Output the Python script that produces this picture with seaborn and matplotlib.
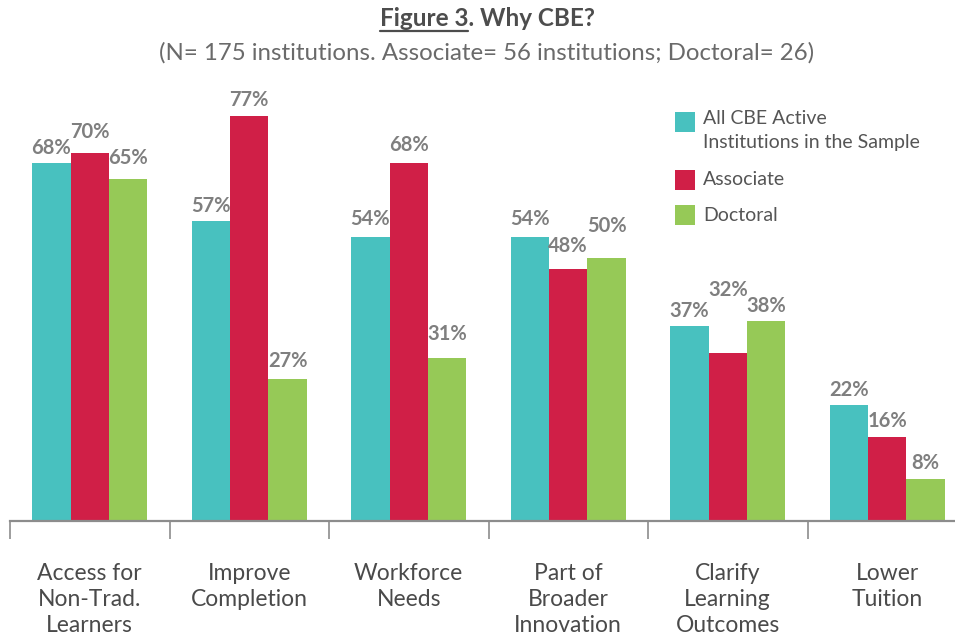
import matplotlib
matplotlib.use("Agg")
import matplotlib.pyplot as plt
import seaborn as sns
import pandas as pd
from matplotlib.patches import Rectangle
from matplotlib.lines import Line2D

categories = ["Access for\nNon-Trad.\nLearners", "Improve\nCompletion", "Workforce\nNeeds",
              "Part of\nBroader\nInnovation", "Clarify\nLearning\nOutcomes", "Lower\nTuition"]
series = ["All CBE Active\nInstitutions in the Sample", "Associate", "Doctoral"]
all_cbe = [68, 57, 54, 54, 37, 22]
associate = [70, 77, 68, 48, 32, 16]
doctoral = [65, 27, 31, 50, 38, 8]
colors = ["#48C1BF", "#D01F47", "#96C957"]

# extra vertical offsets (points) for the value labels, per series/category
label_offsets = [
    [0, 0, 2, 2, 0, 0],
    [4, 0, 2, 5, 34, 0],
    [4, 2, 6, 12, 0, 0],
]

df = pd.DataFrame({
    "category": categories * 3,
    "series": [s for s in series for _ in categories],
    "value": all_cbe + associate + doctoral,
})

sns.set_theme(style="white")
plt.rcParams["font.family"] = ["Lato", "DejaVu Sans"]

W, H = 955, 635
fig = plt.figure(figsize=(W / 100, H / 100), dpi=100)
ax = fig.add_axes([10 / W, 114 / H, 957 / W, 90 * 5.26 / H])

sns.barplot(data=df, x="category", y="value", hue="series", hue_order=series,
            order=categories, palette=colors, width=0.72, gap=0, ax=ax,
            legend=False, saturation=1, linewidth=0)

ax.set_xlim(-0.5, 5.5)
ax.set_ylim(0, 90)
ax.set_xlabel("")
ax.set_ylabel("")
ax.set_yticks([])
for s in ["top", "left", "right"]:
    ax.spines[s].set_visible(False)
ax.spines["bottom"].set_color("#8c8c8c")
ax.spines["bottom"].set_linewidth(1.6)

ax.set_xticks(range(len(categories)))
ax.set_xticklabels(categories, fontsize=16.5, color="#4a4a4a", linespacing=1.29)
ax.tick_params(axis="x", which="major", length=0, pad=30)
ax.set_xticks([i - 0.5 for i in range(len(categories))], minor=True)
ax.tick_params(axis="x", which="minor", bottom=True, length=13, width=1.2,
               color="#8c8c8c", direction="out")

vals = [all_cbe, associate, doctoral]
for si, cont in enumerate(ax.containers):
    for ci, bar in enumerate(cont):
        v = vals[si][ci]
        ax.annotate(f"{v}%", (bar.get_x() + bar.get_width() / 2, bar.get_height()),
                    xytext=(0, 4 + label_offsets[si][ci]), textcoords="offset points",
                    ha="center", va="bottom", fontsize=14.5, fontweight="bold",
                    color="#7f7f7f")

# Legend (manual, first entry aligned with its first line)
leg_y = [112, 170, 205]
for i, (lab, col) in enumerate(zip(series, colors)):
    y = leg_y[i]
    fig.add_artist(Rectangle((675 / W, 1 - (y + 20) / H), 20 / W, 20 / H,
                             transform=fig.transFigure, color=col, lw=0))
    if "\n" in lab:
        fig.text(703 / W, 1 - (y - 2) / H, lab, ha="left", va="top",
                 fontsize=14, color="#555555", linespacing=1.5)
    else:
        fig.text(703 / W, 1 - (y + 10) / H, lab, ha="left", va="center",
                 fontsize=14, color="#555555")

# Title
cx = 487 / W
t = fig.text(cx, 1 - 18 / H, "Figure 3. Why CBE?", ha="center", va="center",
             fontsize=17.5, fontweight="bold", color="#4d4d4d")
fig.text(cx, 1 - 53 / H, "(N= 175 institutions. Associate= 56 institutions; Doctoral= 26)",
         ha="center", va="center", fontsize=17.3, color="#6a6a6a")
fig.canvas.draw()
r = fig.canvas.get_renderer()
bb = t.get_window_extent(r)
tmp = fig.text(0, 0, "Figure 3", fontsize=17.5, fontweight="bold")
w = tmp.get_window_extent(r).width
tmp.remove()
uy = bb.y0 - 1
fig.add_artist(Line2D([bb.x0 / W, (bb.x0 + w) / W], [uy / H, uy / H],
                      transform=fig.transFigure, color="#4d4d4d", lw=1.6))

fig.savefig("out.png", dpi=100)
